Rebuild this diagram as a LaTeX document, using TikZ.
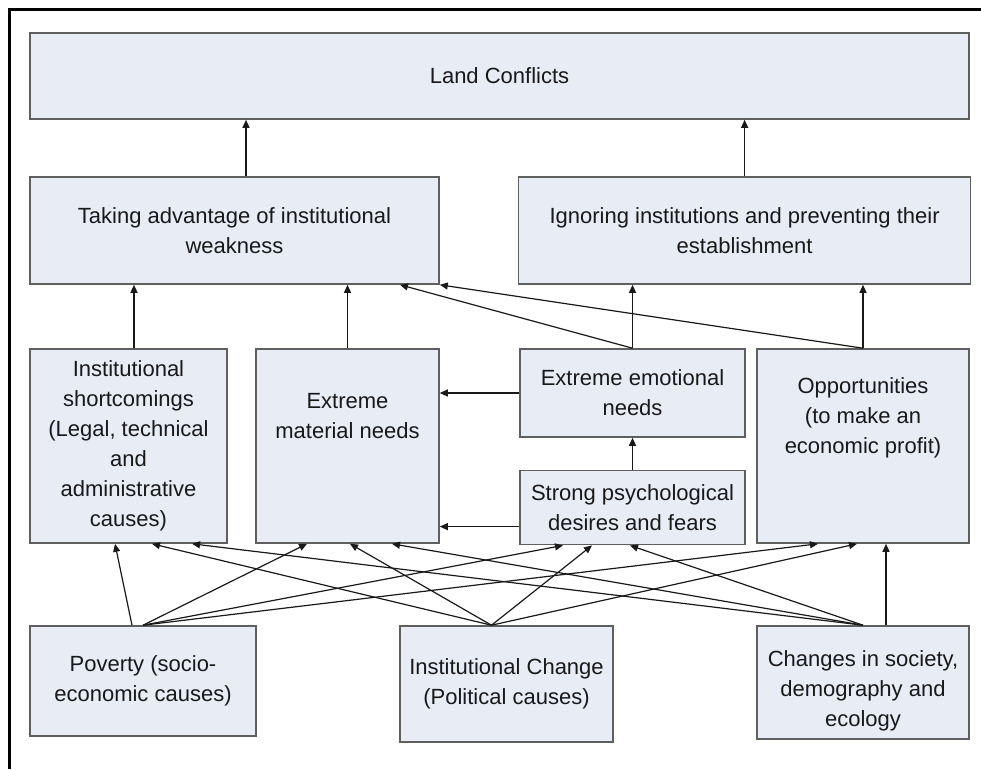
\documentclass[tikz,border=0pt]{standalone}
\usepackage{fontspec}
\setmainfont{Liberation Sans}
\usetikzlibrary{positioning,arrows.meta}
\definecolor{boxfill}{RGB}{232,236,245}
\definecolor{boxline}{RGB}{95,95,95}
\definecolor{ink}{RGB}{25,25,25}
\tikzset{
  cause/.style={draw=boxline,fill=boxfill,line width=1.6pt,align=center,
    inner sep=0pt,text=ink,font=\fontsize{22}{30}\selectfont},
}

\begin{document}
\begin{tikzpicture}[x=1pt,y=-1pt,>={Triangle[length=8pt,width=7pt]},line width=1.2pt,draw=ink]
    \useasboundingbox (0,0) rectangle (981,769);
    \draw[line width=3pt,black] (9.5,769) -- (9.5,9.5) -- (981,9.5);

    % effects
    \node[cause,minimum width=939pt,minimum height=86pt] (land) at (499.5,76) {Land Conflicts};
    \node[cause,minimum width=409pt,minimum height=107pt] (take) at (234.5,230.5)
      {Taking advantage of institutional\\weakness};
    \node[cause,minimum width=452pt,minimum height=107pt,right=78pt of take] (ignore)
      {Ignoring institutions and preventing their\\establishment};

    % middle row
    \node[cause,minimum width=197pt,minimum height=194pt] (inst) at (128.5,446)
      {Institutional\\shortcomings\\(Legal, technical\\and\\administrative\\causes)};
    \node[cause,minimum width=183pt,minimum height=194pt] (mat) at (347.5,446)
      {Extreme\\material needs\\~\\~};
    \node[cause,minimum width=225pt,minimum height=88pt] (emo) at (632.5,393)
      {Extreme emotional\\needs};
    \node[cause,minimum width=225pt,minimum height=74pt,below=32pt of emo] (strong)
      {Strong psychological\\desires and fears};
    \node[cause,minimum width=212pt,minimum height=194pt] (opp) at (863,446)
      {Opportunities\\(to make an\\economic profit)\\~\\~};

    % causes
    \node[cause,minimum width=226pt,minimum height=110pt] (pov) at (143,681)
      {Poverty (socio-\\economic causes)};
    \node[cause,minimum width=213pt,minimum height=116pt] (instc) at (506.5,684)
      {Institutional Change\\(Political causes)};
    \node[cause,minimum width=212pt,minimum height=113pt] (soc) at (863,682.5)
      {\rule{0pt}{32pt}Changes in society,\\demography and\\ecology};

    \path[->]
      ([xshift=11.5pt]take.north) edge ([xshift=11.5pt]take.north |- land.south)
      (ignore.north) edge (ignore.north |- land.south)
      ([xshift=5.5pt]inst.north) edge ([xshift=5.5pt]inst.north |- take.south)
      (mat.north) edge (mat.north |- take.south)
      (emo.north) edge ([xshift=165.5pt]take.south)
      (emo.north) edge (emo.north |- ignore.south)
      (opp.north) edge (take.south east)
      (opp.north) edge (opp.north |- ignore.south)
      (emo.west) edge (emo.west -| mat.east)
      ([yshift=-19pt]strong.west) edge ([yshift=-19pt]strong.west -| mat.east)
      (strong.north) edge (emo.south);

    % from the causes upwards
    \path[->]
      ([xshift=-11pt]pov.north) edge ([xshift=-13.5pt]inst.south)
      (pov.north) edge ([xshift=-40.5pt]mat.south)
      (pov.north) edge ([xshift=-69.5pt]strong.south)
      (pov.north) edge ([xshift=-45pt]opp.south)
      ([xshift=-15pt]instc.north) edge ([xshift=23.5pt]inst.south)
      ([xshift=-15pt]instc.north) edge ([xshift=2.5pt]mat.south)
      ([xshift=-15pt]instc.north) edge ([xshift=-40.5pt]strong.south)
      ([xshift=-15pt]instc.north) edge ([xshift=-6pt]opp.south)
      (soc.north) edge ([xshift=63.5pt]inst.south)
      (soc.north) edge ([xshift=44.5pt]mat.south)
      (soc.north) edge ([xshift=-2.5pt]strong.south)
      ([xshift=23pt]soc.north) edge ([xshift=23pt]opp.south);
\end{tikzpicture}
\end{document}
